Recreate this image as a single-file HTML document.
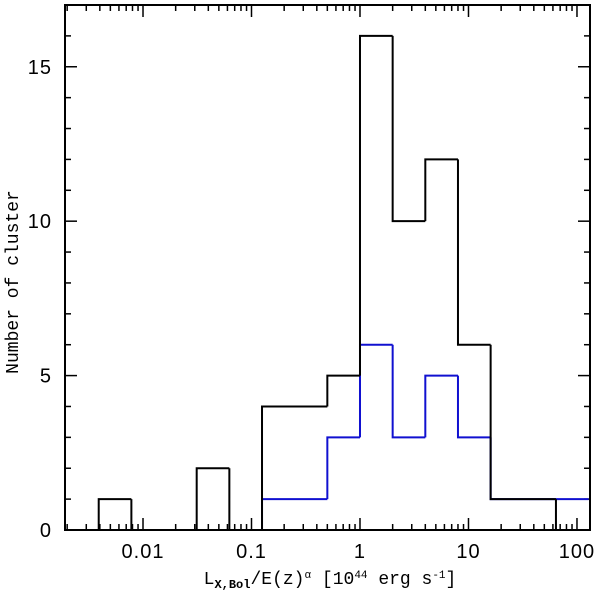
<!DOCTYPE html>
<html><head><meta charset="utf-8"><style>
html,body{margin:0;padding:0;background:#fff;width:600px;height:594px;overflow:hidden}
text{font-family:"Liberation Sans",sans-serif}
</style></head><body>
<svg id="chart" width="600" height="594">
<g id="ticks"></g>
<g id="bars"></g>
<rect x="65" y="5" width="525" height="525" fill="none" stroke="#000" stroke-width="2"/>
<g id="labels" font-size="20" letter-spacing="1"></g>
<text x="330" y="584" text-anchor="middle" font-size="18" style="font-family:'Liberation Mono',monospace">L<tspan font-size="12" dy="4" font-weight="bold">X,Bol</tspan><tspan dy="-4">/E(z)</tspan><tspan font-size="11" dy="-6">α</tspan><tspan dy="6"> [10</tspan><tspan font-size="11" dy="-6">44</tspan><tspan dy="6"> erg s</tspan><tspan font-size="11" dy="-6">-1</tspan><tspan dy="6">]</tspan></text>
<text transform="translate(18,282) rotate(-90)" text-anchor="middle" font-size="18" style="font-family:'Liberation Mono',monospace">Number of cluster</text>
</svg>
<script>
const binEdgesLog2 = [-9,-8,-7,-6,-5,-4,-3,-2,-1,0,1,2,3,4,5,6,7];
const allCounts = [0,1,0,0,2,0,4,4,5,16,10,12,6,1,1,0];
const subsetCounts = [0,0,0,0,0,0,1,1,3,6,3,5,3,1,1,1];
const xTickLabels = ["0.01","0.1","1","10","100"];
const yTickLabels = [0,5,10,15];
const L=65,R=590,T=5,B=530, XMIN=-2.719, XMAX=2.12, YMAX=17;
const sx=v=>L+(Math.log10(v)-XMIN)/(XMAX-XMIN)*(R-L);
const sy=v=>B-v/YMAX*(B-T);
const NS="http://www.w3.org/2000/svg";
function mk(t,a,p){const e=document.createElementNS(NS,t);for(const k in a)e.setAttribute(k,a[k]);p.appendChild(e);return e;}
const tg=document.getElementById('ticks'), lg=document.getElementById('labels'), bg=document.getElementById('bars');
for(let d=-3;d<=2;d++)for(let m=1;m<10;m++){const v=m*Math.pow(10,d);const x=sx(v);if(x<L||x>R)continue;const len=m===1?12:6;
 const t1=mk('line',{x1:x,x2:x,y1:B,y2:B-len,stroke:'#000','stroke-width':1.5},tg);
 const t2=mk('line',{x1:x,x2:x,y1:T,y2:T+len,stroke:'#000','stroke-width':1.5},tg);}
for(let v=0;v<=YMAX;v++){const y=sy(v);const len=v%5===0?12:6;
 const t1=mk('line',{x1:L,x2:L+len,y1:y,y2:y,stroke:'#000','stroke-width':1.5},tg);
 const t2=mk('line',{x1:R,x2:R-len,y1:y,y2:y,stroke:'#000','stroke-width':1.5},tg);}
xTickLabels.forEach(s=>{const t=mk('text',{x:sx(parseFloat(s)),y:558,'text-anchor':'middle'},lg);t.textContent=s;});
yTickLabels.forEach(v=>{const t=mk('text',{x:52,y:sy(v)+7,'text-anchor':'end'},lg);t.textContent=v;});
function histFull(counts,color,name){const clampX=x=>Math.max(L,Math.min(R,x));let d='';
 counts.forEach((c,i)=>{const x0=clampX(sx(Math.pow(2,binEdgesLog2[i]))),x1=clampX(sx(Math.pow(2,binEdgesLog2[i+1])));
  const prev=i>0?counts[i-1]:0;d+=`M${x0},${sy(prev)}L${x0},${sy(c)}L${x1},${sy(c)}`;});
 const p=mk('path',{d:d,fill:'none',stroke:color,'stroke-width':2},bg);}
histFull(subsetCounts,'#1010d0','subset-histogram');
histFull(allCounts,'#000','all-clusters-histogram');
</script>
</body></html>
